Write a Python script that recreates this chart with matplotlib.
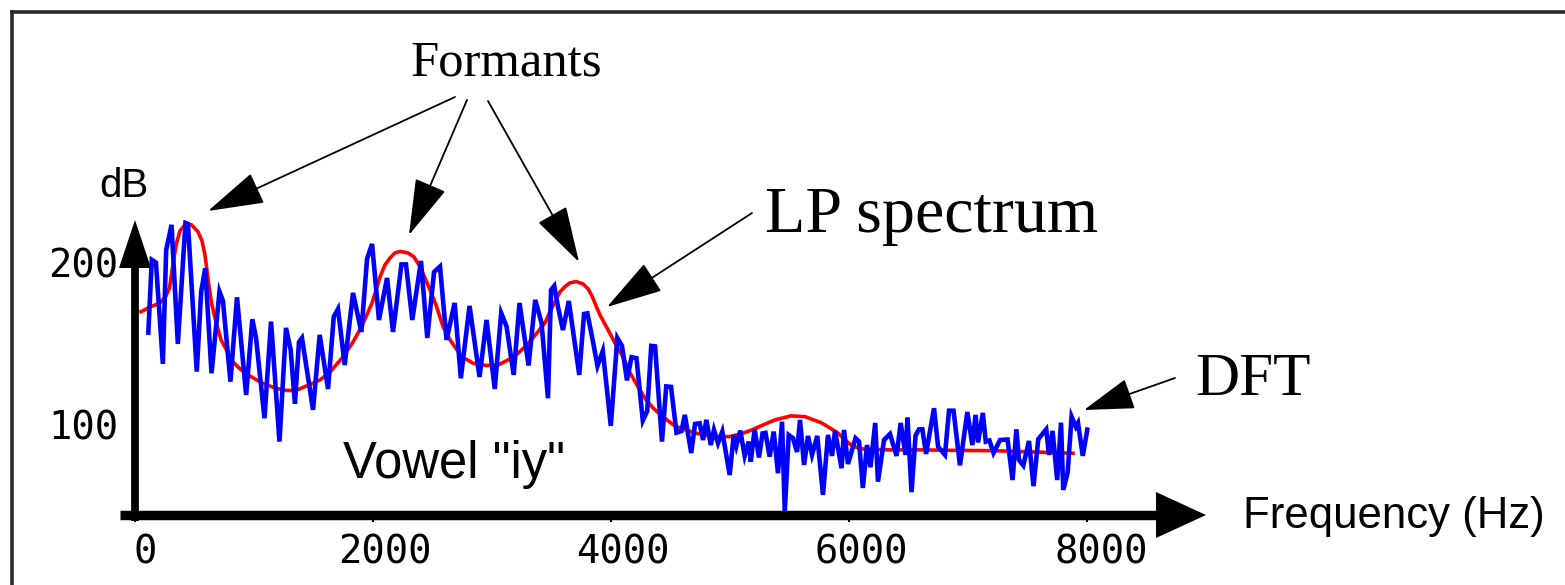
import matplotlib
matplotlib.use('Agg')
import matplotlib.pyplot as plt
from matplotlib.patches import Polygon
from matplotlib.transforms import ScaledTranslation

# ---------------- data ----------------
freq_dft = [112, 141, 176, 234, 262, 307, 360, 424, 445, 519,
            556, 590, 643, 710, 739, 802, 857, 934, 986, 1017,
            1088, 1143, 1214, 1269, 1308, 1344, 1378, 1403, 1496, 1552,
            1622, 1670, 1706, 1762, 1832, 1902, 1950, 1992, 2050, 2118,
            2168, 2239, 2277, 2330, 2403, 2456, 2513, 2563, 2618, 2686,
            2738, 2811, 2895, 2954, 3023, 3077, 3122, 3182, 3231, 3307,
            3363, 3416, 3470, 3496, 3523, 3554, 3596, 3645, 3733, 3773,
            3801, 3849, 3886, 3931, 3998, 4053, 4092, 4134, 4172, 4214,
            4267, 4304, 4338, 4370, 4428, 4464, 4504, 4550, 4592, 4620,
            4674, 4706, 4745, 4773, 4801, 4838, 4865, 4899, 4935, 4997,
            5031, 5053, 5086, 5123, 5157, 5174, 5207, 5243, 5273, 5298,
            5333, 5367, 5403, 5437, 5460, 5493, 5529, 5563, 5588, 5622,
            5655, 5689, 5733, 5781, 5823, 5857, 5882, 5937, 5958, 5991,
            6054, 6084, 6116, 6151, 6180, 6220, 6243, 6294, 6344, 6399,
            6434, 6475, 6491, 6525, 6559, 6588, 6616, 6647, 6714, 6748,
            6806, 6840, 6878, 6932, 6994, 7036, 7063, 7084, 7124, 7149,
            7180, 7214, 7269, 7332, 7374, 7406, 7428, 7464, 7512, 7550,
            7590, 7657, 7680, 7710, 7749, 7781, 7800, 7837, 7870, 7906,
            7924, 7964, 8002]
db_dft = [157.0, 201.9, 200.2, 137.7, 208.0, 223.5, 150.0, 224.7, 224.1, 132.9,
          182.3, 196.7, 131.9, 182.3, 176.5, 126.7, 178.8, 118.5, 165.2, 153.7,
          104.1, 163.8, 89.7, 159.9, 146.3, 113.0, 151.2, 153.7, 109.3, 155.6,
          122.2, 166.7, 171.6, 137.0, 181.5, 157.4, 202.5, 211.7, 164.8, 190.7,
          157.4, 199.1, 199.1, 164.8, 201.2, 153.7, 194.4, 197.8, 152.5, 175.3,
          128.8, 173.5, 129.6, 164.8, 122.2, 169.1, 160.8, 130.9, 175.3, 136.7,
          177.2, 163.0, 116.5, 183.3, 185.8, 173.0, 158.6, 176.5, 130.9, 168.5,
          168.9, 151.2, 136.4, 145.7, 99.4, 153.7, 148.8, 127.5, 141.8, 141.2,
          102.7, 108.6, 148.8, 148.5, 89.7, 123.8, 123.5, 95.2, 96.2, 106.2,
          82.7, 100.6, 101.0, 90.7, 103.1, 87.6, 96.9, 88.7, 95.9, 69.1,
          93.8, 87.0, 96.5, 80.9, 89.7, 77.3, 97.3, 79.9, 94.8, 95.1,
          80.4, 95.9, 70.2, 102.0, 46.5, 93.8, 91.8, 83.3, 103.1, 75.3,
          93.2, 81.5, 93.2, 56.8, 93.8, 80.9, 96.3, 73.3, 96.9, 75.9,
          91.8, 89.7, 61.1, 87.6, 73.9, 101.2, 65.0, 90.7, 94.4, 80.9,
          101.2, 81.5, 104.5, 58.5, 93.5, 97.3, 97.3, 82.1, 110.3, 86.6,
          81.5, 108.8, 108.8, 75.0, 108.0, 87.6, 106.2, 89.2, 107.4, 89.7,
          90.4, 82.7, 90.7, 91.0, 66.0, 97.3, 78.4, 75.0, 90.1, 62.2,
          91.2, 97.3, 81.5, 96.3, 66.0, 101.4, 59.9, 70.7, 105.1, 98.8,
          101.2, 80.9, 97.1]

freq_lp = [50, 134, 210, 260, 290, 322, 349, 378, 420, 475,
           529, 563, 588, 618, 643, 672, 723, 773, 815, 882,
           966, 1067, 1176, 1269, 1353, 1462, 1555, 1639, 1748, 1832,
           1907, 1992, 2059, 2101, 2143, 2185, 2227, 2294, 2344, 2395,
           2437, 2479, 2529, 2588, 2647, 2745, 2840, 2949, 3050, 3185,
           3294, 3378, 3445, 3487, 3529, 3571, 3613, 3655, 3706, 3765,
           3807, 3840, 3874, 3907, 3975, 4042, 4101, 4160, 4227, 4294,
           4361, 4437, 4513, 4580, 4714, 4857, 5000, 5109, 5193, 5277,
           5378, 5512, 5630, 5765, 5840, 5908, 5966, 6017, 6075, 6134,
           6353, 6580, 6890, 7210, 7563, 7882]
db_lp = [169.9, 173.0, 175.3, 179.6, 184.6, 200.6, 212.3, 219.8, 223.5, 223.5,
         219.3, 213.6, 204.9, 187.7, 175.3, 166.0, 152.5, 145.7, 139.5, 134.6,
         130.2, 125.9, 122.8, 121.3, 121.3, 124.7, 127.8, 132.7, 142.0, 151.2,
         161.1, 175.3, 191.4, 198.8, 203.1, 206.2, 207.1, 206.2, 203.7, 197.7,
         190.7, 183.3, 174.1, 160.7, 152.5, 142.2, 138.1, 136.7, 137.0, 142.0,
         149.4, 156.8, 163.0, 169.8, 176.1, 182.1, 185.4, 187.7, 188.5, 187.0,
         184.0, 179.6, 173.5, 167.9, 158.6, 149.4, 142.0, 132.1, 123.5, 115.5,
         109.9, 105.1, 100.6, 98.0, 94.9, 92.8, 92.8, 94.9, 97.2, 100.0,
         103.1, 105.6, 105.1, 101.4, 98.1, 94.9, 90.7, 87.6, 85.8, 85.0,
         84.6, 84.6, 84.3, 84.1, 83.3, 82.5]

xtick_values = [0, 2000, 4000, 6000, 8000]
xtick_labels = ['0', '2000', '4000', '6000', '8000']
ytick_values = [100, 200]
ytick_labels = ['100', '200']

# ---------------- figure ----------------
W, H = 1565, 585
fig = plt.figure(figsize=(W / 100, H / 100), dpi=100)
fig.patch.set_facecolor('white')

# overlay in pixel coordinates for decorations
ov = fig.add_axes([0, 0, 1, 1])
ov.set_xlim(0, W)
ov.set_ylim(H, 0)
ov.axis('off')

# data axes: origin at px (135, 515), extends to arrow tips
x0, y0, x1, y1 = 135, 515, 1205, 220
ax = fig.add_axes([x0 / W, (H - y0) / H, (x1 - x0) / W, (y0 - y1) / H])
ax.set_xlim(0, 8991)
ax.set_ylim(44.4, 226.5)
ax.patch.set_visible(False)
for s in ax.spines.values():
    s.set_visible(False)

ax.plot(freq_lp, db_lp, color='#ff0000', lw=2.6, solid_joinstyle='round', zorder=2)
ax.plot(freq_dft, db_dft, color='#0000ff', lw=3.3, solid_joinstyle='miter', zorder=3)

mono = 'DejaVu Sans Mono'
ax.set_xticks(xtick_values)
ax.set_xticklabels(xtick_labels, fontfamily=mono, fontsize=28)
ax.tick_params(axis='x', direction='out', length=5, width=1.5, pad=8, colors='black')
ax.set_yticks(ytick_values)
ax.set_yticklabels(ytick_labels, fontfamily=mono, fontsize=28)
ax.tick_params(axis='y', length=0, pad=12)
for lab, dx in zip(ax.get_xticklabels(), [10, 12, 12, 12, 14]):
    lab.set_transform(lab.get_transform() + ScaledTranslation(dx / 100, 0, fig.dpi_scale_trans))

# frame
ov.plot([12, 12], [H, 12], color='#2a2a2a', lw=2.6, solid_capstyle='projecting')
ov.plot([12, W], [12, 12], color='#2a2a2a', lw=2.6, solid_capstyle='projecting')

# axis arrows
ov.plot([120, 1160], [515, 515], color='black', lw=6.8, solid_capstyle='butt')
ov.add_patch(Polygon([[1156, 492], [1206, 515], [1156, 538]], closed=True,
                     facecolor='black', edgecolor='none'))
ov.plot([135, 135], [521, 266], color='black', lw=5.6, solid_capstyle='butt')
ov.add_patch(Polygon([[119, 268], [135, 220], [151, 268]], closed=True,
                     facecolor='black', edgecolor='none'))

# texts
serif = 'Liberation Serif'
sans = 'Liberation Sans'
ov.text(506, 75, 'Formants', family=serif, fontsize=36.5, ha='center', va='baseline')
ov.text(124, 197, 'dB', family=sans, fontsize=29, ha='center', va='baseline')
ov.text(765, 232, 'LP spectrum', family=serif, fontsize=47.5, ha='left', va='baseline')
ov.text(1195, 395, 'DFT', family=serif, fontsize=44, ha='left', va='baseline')
ov.text(343, 478, 'Vowel "iy"', family=sans, fontsize=36.5, ha='left', va='baseline')
ov.text(1243, 528, 'Frequency (Hz)', family=sans, fontsize=31.5, ha='left', va='baseline')


def arrow(start, tip, hl=36, hw=10.5):
    ov.annotate('', xy=tip, xytext=start, xycoords='data', textcoords='data',
                arrowprops=dict(arrowstyle=f'-|>,head_length={hl},head_width={hw}',
                                mutation_scale=1, lw=1.3, color='black',
                                shrinkA=0, shrinkB=0))


arrow((455, 97), (208, 211))
arrow((467, 100), (409, 235))
arrow((488, 101), (579, 262))
arrow((752, 213), (607, 307))
arrow((1175, 378), (1084, 410), hl=32, hw=10)

fig.savefig('out.png', dpi=100)
